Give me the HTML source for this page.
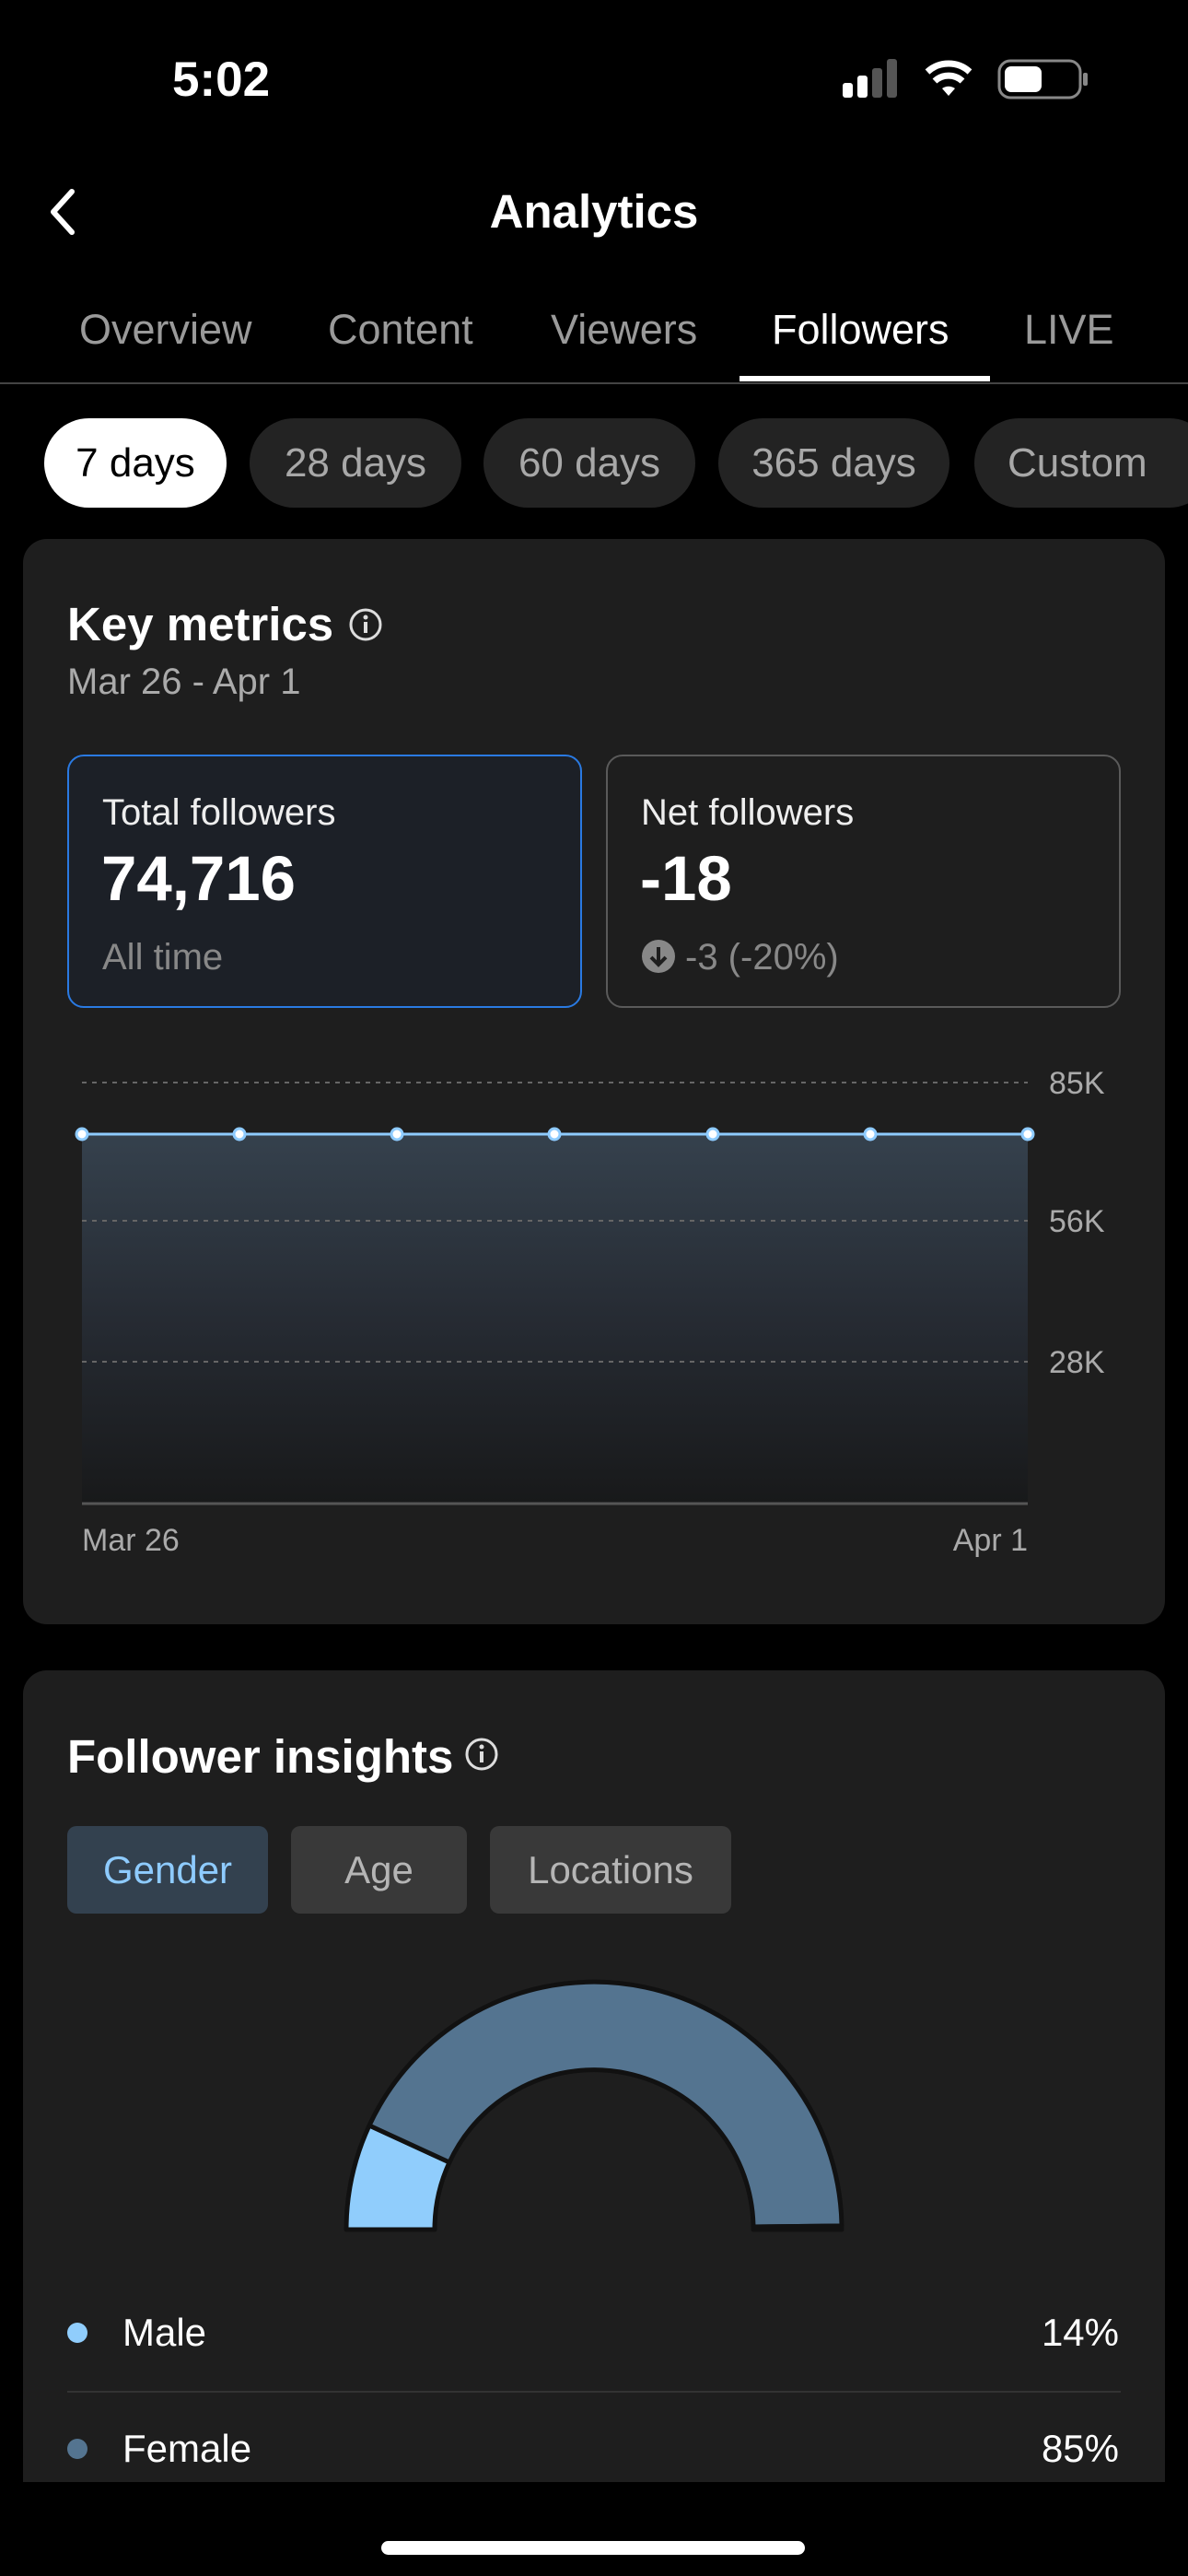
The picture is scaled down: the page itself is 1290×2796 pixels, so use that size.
<!DOCTYPE html>
<html><head><meta charset="utf-8"><style>
*{margin:0;padding:0;box-sizing:border-box}
body{width:1290px;height:2796px;background:#000;font-family:"Liberation Sans",sans-serif;color:#fff;position:relative;overflow:hidden}
.a{position:absolute;white-space:nowrap}
.pill{position:absolute;top:454px;height:97px;border-radius:49px;background:#232323;color:#a8a8a8;font-size:44px;display:flex;align-items:center;justify-content:center}
.tab{position:absolute;top:332px;font-size:45px;color:#9a9a9a}
.chip{position:absolute;top:1982px;height:95px;border-radius:10px;background:#393939;color:#b5b5b5;font-size:42px;display:flex;align-items:center;justify-content:center}
</style></head><body>
<div class="a" style="left:187px;top:56px;font-size:53px;font-weight:bold">5:02</div>
<svg class="a" style="left:910px;top:60px" width="280" height="56">
<rect x="5" y="30" width="11" height="16" rx="3" fill="#fff"/><rect x="21" y="22" width="11" height="24" rx="3" fill="#fff"/>
<rect x="37" y="14" width="11" height="32" rx="3" fill="#555"/><rect x="53" y="4" width="11" height="42" rx="3" fill="#555"/>
<path d="M120 44 L113 36 A12 12 0 0 1 127 36 Z" fill="#fff"/>
<path d="M105 28 A22 22 0 0 1 135 28" stroke="#fff" stroke-width="7" fill="none"/>
<path d="M97 18 A34 34 0 0 1 143 18" stroke="#fff" stroke-width="7" fill="none"/>
<rect x="175" y="6" width="88" height="40" rx="12" fill="none" stroke="#888" stroke-width="3"/>
<rect x="181" y="12" width="40" height="28" rx="7" fill="#fff"/><rect x="266" y="19" width="5" height="14" rx="2" fill="#888"/>
</svg>
<svg class="a" style="left:48px;top:202px" width="40" height="56"><path d="M30 6 L10 28 L30 50" stroke="#fff" stroke-width="6" fill="none" stroke-linecap="round" stroke-linejoin="round"/></svg>
<div class="a" style="left:0;width:1290px;text-align:center;top:200px;font-size:51px;font-weight:bold">Analytics</div>
<div class="tab" style="left:86px">Overview</div>
<div class="tab" style="left:356px">Content</div>
<div class="tab" style="left:598px">Viewers</div>
<div class="tab" style="left:838px;color:#fff">Followers</div>
<div class="tab" style="left:1112px">LIVE</div>
<div class="a" style="left:0;top:415px;width:1290px;height:2px;background:#444"></div>
<div class="a" style="left:803px;top:408px;width:272px;height:6px;background:#fff"></div>
<div class="pill" style="left:48px;width:198px;background:#fff;color:#000">7 days</div>
<div class="pill" style="left:271px;width:230px">28 days</div>
<div class="pill" style="left:525px;width:230px">60 days</div>
<div class="pill" style="left:780px;width:251px">365 days</div>
<div class="pill" style="left:1058px;width:260px;justify-content:flex-start;padding-left:36px">Custom</div>

<div class="a" style="left:25px;top:585px;width:1240px;height:1178px;border-radius:26px;background:#1e1e1e"></div>
<div class="a" style="left:73px;top:648px;font-size:51px;font-weight:bold">Key metrics</div>
<svg class="a" style="left:377px;top:658px" width="40" height="40"><circle cx="20" cy="20" r="16" stroke="#ddd" stroke-width="3" fill="none"/><rect x="18" y="17" width="4" height="12" fill="#ddd"/><circle cx="20" cy="12" r="2.5" fill="#ddd"/></svg>
<div class="a" style="left:73px;top:718px;font-size:40px;color:#aaa">Mar 26 - Apr 1</div>
<div class="a" style="left:73px;top:819px;width:559px;height:275px;border:2px solid #2a7ae2;border-radius:18px;background:#1c2027"></div>
<div class="a" style="left:111px;top:860px;font-size:40px;color:#eee">Total followers</div>
<div class="a" style="left:110px;top:914px;font-size:69px;font-weight:bold">74,716</div>
<div class="a" style="left:111px;top:1017px;font-size:40px;color:#888">All time</div>
<div class="a" style="left:658px;top:819px;width:559px;height:275px;border:2px solid #5a5a5a;border-radius:18px"></div>
<div class="a" style="left:696px;top:860px;font-size:40px;color:#eee">Net followers</div>
<div class="a" style="left:695px;top:914px;font-size:69px;font-weight:bold">-18</div>
<svg class="a" style="left:696px;top:1019px" width="40" height="40"><circle cx="19" cy="19" r="18" fill="#888"/><path d="M19 9 V27 M11 20 L19 28 L27 20" stroke="#1e1e1e" stroke-width="4" fill="none"/></svg>
<div class="a" style="left:744px;top:1017px;font-size:40px;color:#888">-3 (-20%)</div>

<svg class="a" style="left:0;top:1100px" width="1290" height="620">
<defs><linearGradient id="g" x1="0" y1="0" x2="0" y2="1"><stop offset="0" stop-color="#35414d"/><stop offset="0.5" stop-color="#262b33"/><stop offset="1" stop-color="#18191a"/></linearGradient></defs>
<rect x="89" y="131" width="1027" height="401" fill="url(#g)"/>
<g stroke="#666" stroke-width="2" stroke-dasharray="5 6"><line x1="89" y1="75" x2="1116" y2="75"/><line x1="89" y1="225" x2="1116" y2="225"/><line x1="89" y1="378" x2="1116" y2="378"/></g>
<line x1="89" y1="532" x2="1116" y2="532" stroke="#555" stroke-width="3"/>
<line x1="89" y1="131" x2="1116" y2="131" stroke="#8ecbff" stroke-width="3"/>
<g fill="#fff" stroke="#8ecbff" stroke-width="3"><circle cx="89" cy="131" r="6"/><circle cx="260" cy="131" r="6"/><circle cx="431" cy="131" r="6"/><circle cx="602" cy="131" r="6"/><circle cx="774" cy="131" r="6"/><circle cx="945" cy="131" r="6"/><circle cx="1116" cy="131" r="6"/></g>
<g fill="#aaa" font-size="34" font-family="Liberation Sans"><text x="1139" y="87">85K</text><text x="1139" y="237">56K</text><text x="1139" y="390">28K</text><text x="89" y="583">Mar 26</text><text x="1116" y="583" text-anchor="end">Apr 1</text></g>
</svg>

<div class="a" style="left:25px;top:1813px;width:1240px;height:881px;border-radius:26px 26px 0 0;background:#1e1e1e"></div>
<div class="a" style="left:73px;top:1877px;font-size:51px;font-weight:bold">Follower insights</div>
<svg class="a" style="left:503px;top:1884px" width="40" height="40"><circle cx="20" cy="20" r="16" stroke="#ddd" stroke-width="3" fill="none"/><rect x="18" y="17" width="4" height="12" fill="#ddd"/><circle cx="20" cy="12" r="2.5" fill="#ddd"/></svg>
<div class="chip" style="left:73px;width:218px;background:#33414f;color:#8ecbff">Gender</div>
<div class="chip" style="left:316px;width:191px">Age</div>
<div class="chip" style="left:532px;width:262px">Locations</div>
<svg class="a" style="left:0;top:2100px" width="1290" height="340">
<g stroke="#111" stroke-width="5" stroke-linejoin="round">
<path d="M376 320 A269 269 0 0 1 401 207 L488 247 A173 173 0 0 0 472 320 Z" fill="#90cdfc"/>
<path d="M401 207 A269 269 0 0 1 914 316 L818 317 A173 173 0 0 0 488 247 Z" fill="#547490"/>
<path d="M914 316 L914 320 L818 320 L818 317 Z" fill="#547490"/>
</g></svg>
<div class="a" style="left:73px;top:2521px;width:22px;height:22px;border-radius:50%;background:#90cdfc"></div>
<div class="a" style="left:133px;top:2508px;font-size:42px">Male</div>
<div class="a" style="right:75px;top:2508px;font-size:42px">14%</div>
<div class="a" style="left:73px;top:2595px;width:1144px;height:2px;background:#333"></div>
<div class="a" style="left:73px;top:2647px;width:22px;height:22px;border-radius:50%;background:#547490"></div>
<div class="a" style="left:133px;top:2634px;font-size:42px">Female</div>
<div class="a" style="right:75px;top:2634px;font-size:42px">85%</div>
<div class="a" style="left:0;top:2694px;width:1290px;height:102px;background:#000"></div>
<div class="a" style="left:414px;top:2758px;width:460px;height:15px;border-radius:8px;background:#fff"></div>
</body></html>
